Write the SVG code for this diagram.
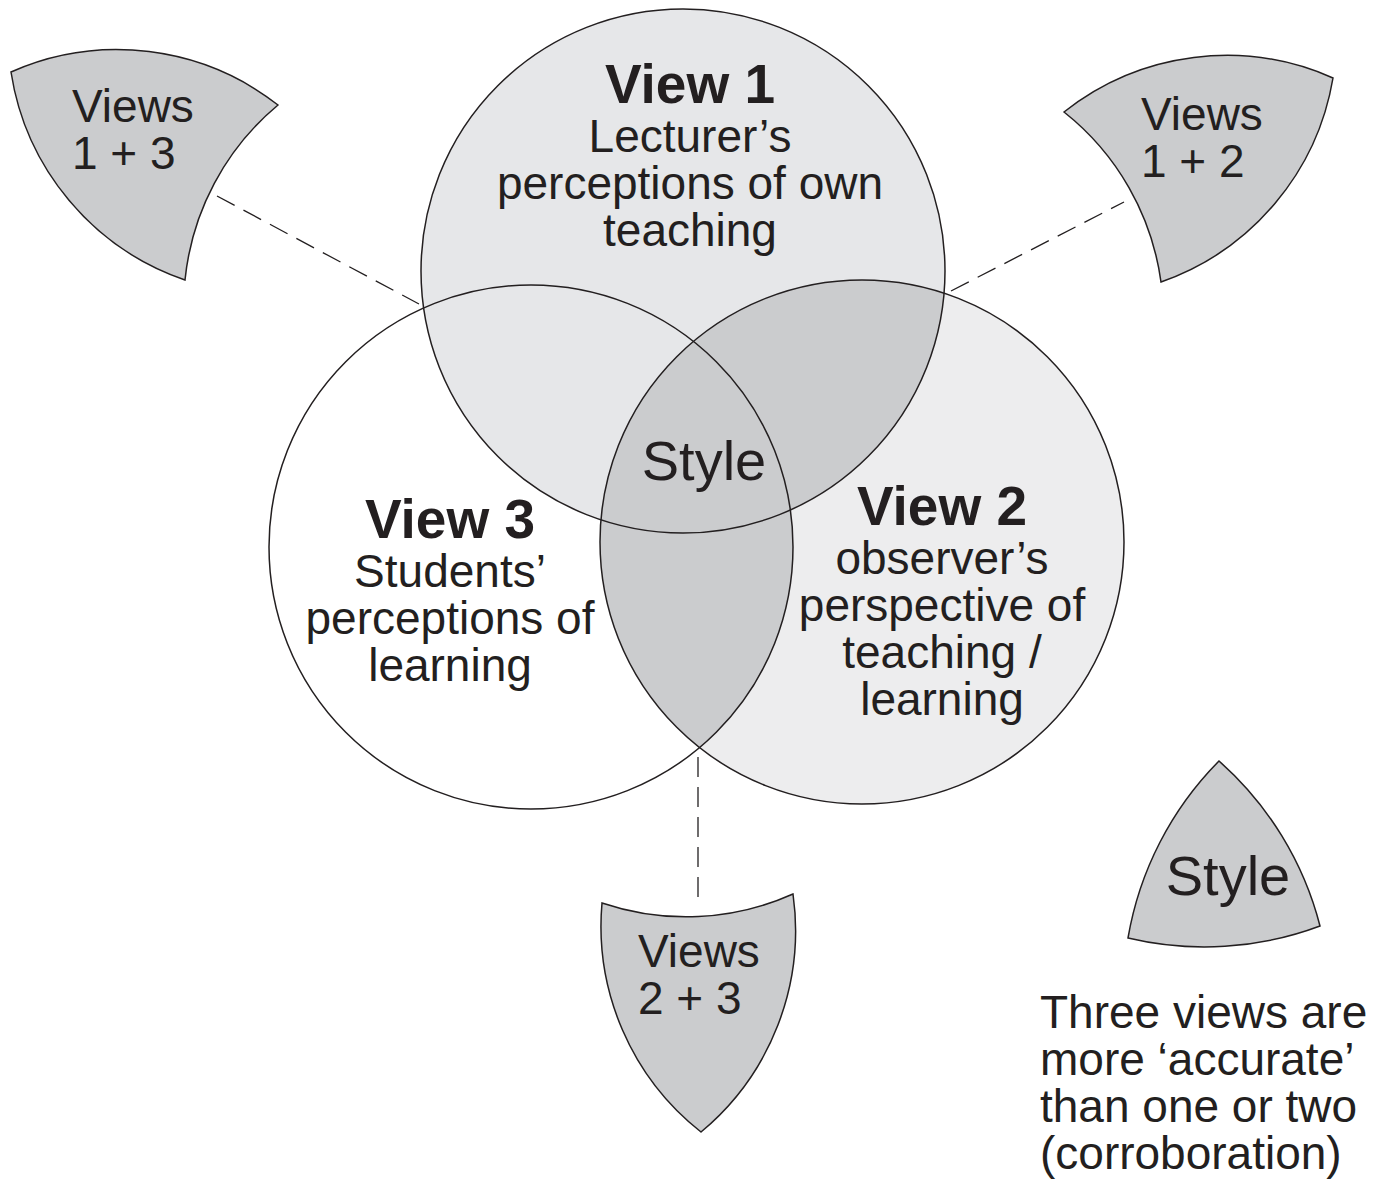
<svg xmlns="http://www.w3.org/2000/svg" width="1391" height="1179" viewBox="0 0 1391 1179">
<style>
.t{font-family:"Liberation Sans",Arial,sans-serif;font-size:46px;fill:#231f20;text-anchor:middle}
.b{font-weight:bold;font-size:55px}
.s{font-size:56px}
.l{text-anchor:start}
.ol{fill:none;stroke:#231f20;stroke-width:1.5}
.sh{fill:#cbccce;stroke:#231f20;stroke-width:1.5;stroke-linejoin:miter}
.dash{stroke:#231f20;stroke-width:1.3;stroke-dasharray:20 10;fill:none}
</style>
<defs>
<clipPath id="c1"><circle cx="683" cy="271" r="262"/></clipPath>
<clipPath id="c3"><circle cx="531" cy="547" r="262"/></clipPath>
</defs>
<rect width="1391" height="1179" fill="#ffffff"/>
<g id="venn">
<circle cx="531" cy="547" r="262" fill="#ffffff"/>
<circle cx="683" cy="271" r="262" fill="#e6e7e9"/>
<circle cx="862" cy="542" r="262" fill="#ededee"/>
<circle cx="862" cy="542" r="262" fill="#cbccce" clip-path="url(#c1)"/>
<circle cx="862" cy="542" r="262" fill="#cbccce" clip-path="url(#c3)"/>
<circle class="ol" cx="531" cy="547" r="262"/>
<circle class="ol" cx="683" cy="271" r="262"/>
<circle class="ol" cx="862" cy="542" r="262"/>
</g>
<g id="connectors">
<line class="dash" x1="217" y1="196" x2="419" y2="304"/>
<line class="dash" x1="951" y1="291" x2="1124" y2="202"/>
<line class="dash" x1="698" y1="757" x2="698" y2="906"/>
</g>
<g id="view1">
<text class="t b" x="690" y="103">View 1</text>
<text class="t" x="690" y="152">Lecturer’s</text>
<text class="t" x="690" y="199">perceptions of own</text>
<text class="t" x="690" y="246">teaching</text>
</g>
<g id="view3">
<text class="t b" x="450" y="538">View 3</text>
<text class="t" x="450" y="587">Students’</text>
<text class="t" x="450" y="634">perceptions of</text>
<text class="t" x="450" y="681">learning</text>
</g>
<g id="view2">
<text class="t b" x="942" y="525">View 2</text>
<text class="t" x="942" y="574">observer’s</text>
<text class="t" x="942" y="621">perspective of</text>
<text class="t" x="942" y="668">teaching /</text>
<text class="t" x="942" y="715">learning</text>
</g>
<g id="style-center">
<text class="t s" x="704" y="480">Style</text>
</g>
<g id="views13">
<path class="sh" d="M 11 72 A 262 262 0 0 1 278 105 A 262 262 0 0 0 185 280 A 262 262 0 0 1 11 72 Z"/>
<text class="t l" x="72" y="122">Views</text>
<text class="t l" x="72" y="169">1 + 3</text>
</g>
<g id="views12">
<path class="sh" d="M 1064 112 A 262 262 0 0 1 1333 78 A 262 262 0 0 1 1161 282 A 262 262 0 0 0 1064 112 Z"/>
<text class="t l" x="1141" y="130">Views</text>
<text class="t l" x="1141" y="177">1 + 2</text>
</g>
<g id="views23">
<path class="sh" d="M 602 903 A 262 262 0 0 0 793 894 A 262 262 0 0 1 701 1132 A 262 262 0 0 1 602 903 Z"/>
<text class="t l" x="638" y="967">Views</text>
<text class="t l" x="638" y="1014">2 + 3</text>
</g>
<g id="style-legend">
<path class="sh" d="M 1219 761 A 330 330 0 0 1 1320 926 A 330 330 0 0 1 1128 938 A 330 330 0 0 1 1219 761 Z"/>
<text class="t s" x="1228" y="895">Style</text>
</g>
<g id="caption">
<text class="t l" x="1040" y="1028">Three views are</text>
<text class="t l" x="1040" y="1075">more ‘accurate’</text>
<text class="t l" x="1040" y="1122">than one or two</text>
<text class="t l" x="1040" y="1169">(corroboration)</text>
</g>
</svg>
